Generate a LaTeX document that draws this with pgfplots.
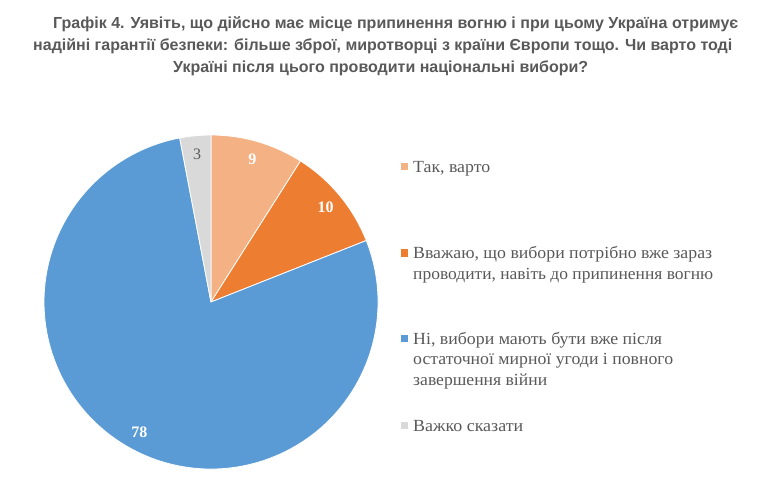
\documentclass[border=0pt]{standalone}
\usepackage{fontspec}
\setmainfont{Liberation Serif}
\newfontfamily\titlefont{Liberation Sans}
\usepackage{graphicx}
\usepackage{pgfplots}
\usepackage{pgfplotstable}
\pgfplotsset{compat=1.18}
\definecolor{cA}{HTML}{F4B183}
\definecolor{cB}{HTML}{ED7D31}
\definecolor{cC}{HTML}{5B9BD5}
\definecolor{cD}{HTML}{D9D9D9}
\definecolor{txt}{HTML}{595959}

\pgfplotstableread{
value
9
10
78
3
}\piedata

\newcommand\legline[3]{\node at (413bp,-#1bp) {\resizebox{#2bp}{\height}{#3}};}

\begin{document}
\begin{tikzpicture}
\useasboundingbox (0,0) rectangle (764bp,-494bp);
\pgfplotstablegetelem{0}{value}\of\piedata \pgfmathtruncatemacro\vA{\pgfplotsretval}
\pgfplotstablegetelem{1}{value}\of\piedata \pgfmathtruncatemacro\vB{\pgfplotsretval}
\pgfplotstablegetelem{2}{value}\of\piedata \pgfmathtruncatemacro\vC{\pgfplotsretval}
\pgfplotstablegetelem{3}{value}\of\piedata \pgfmathtruncatemacro\vD{\pgfplotsretval}
\pgfmathsetmacro\aA{90-3.6*\vA}
\pgfmathsetmacro\aB{\aA-3.6*\vB}
\pgfmathsetmacro\aC{\aB-3.6*\vC}
\pgfmathsetmacro\aD{\aC-3.6*\vD}
\pgfmathsetmacro\mA{(90+\aA)/2}
\pgfmathsetmacro\mB{(\aA+\aB)/2}
\pgfmathsetmacro\mC{(\aB+\aC)/2}
\pgfmathsetmacro\mD{(\aC+\aD)/2}
\begin{axis}[at={(211bp,-302bp)}, anchor=origin, scale only axis,
  width=334bp, height=334bp, xmin=-1, xmax=1, ymin=-1, ymax=1,
  hide axis, clip=false]
\fill[cA, draw=white, line width=0.8bp] (axis cs:0,0) -- (axis cs:0,1) arc[start angle=90, end angle=\aA, radius=167bp] -- cycle;
\fill[cB, draw=white, line width=0.8bp] (axis cs:0,0) -- (axis cs:{cos(\aA)},{sin(\aA)}) arc[start angle=\aA, end angle=\aB, radius=167bp] -- cycle;
\fill[cC, draw=white, line width=0.8bp] (axis cs:0,0) -- (axis cs:{cos(\aB)},{sin(\aB)}) arc[start angle=\aB, end angle=\aC, radius=167bp] -- cycle;
\fill[cD, draw=white, line width=0.8bp] (axis cs:0,0) -- (axis cs:{cos(\aC)},{sin(\aC)}) arc[start angle=\aC, end angle=\aD, radius=167bp] -- cycle;
\node[text=white, font=\fontsize{16bp}{18bp}\selectfont\bfseries] at (axis cs:{0.89*cos(\mA)},{0.89*sin(\mA)}) {\vA};
\node[text=white, font=\fontsize{16bp}{18bp}\selectfont\bfseries] at (axis cs:{0.89*cos(\mB)},{0.89*sin(\mB)}) {\vB};
\node[text=white, font=\fontsize{16bp}{18bp}\selectfont\bfseries] at (axis cs:{0.89*cos(\mC)},{0.89*sin(\mC)}) {\vC};
\node[text=txt, font=\fontsize{16bp}{18bp}\selectfont] at (axis cs:{0.89*cos(\mD)},{0.89*sin(\mD)}) {\vD};
\end{axis}
% title
\begin{scope}[every node/.style={inner sep=0pt, text=txt, font=\titlefont\bfseries\fontsize{16bp}{19bp}\selectfont}]
\node[anchor=base west] at (53bp,-28bp) {\resizebox{685bp}{\height}{Графік 4. Уявіть, що дійсно має місце припинення вогню і при цьому Україна отримує}};
\node[anchor=base west] at (33bp,-50bp) {\resizebox{699bp}{\height}{надійні гарантії безпеки: більше зброї, миротворці з країни Європи тощо. Чи варто тоді}};
\node[anchor=base west] at (173bp,-72bp) {\resizebox{415bp}{\height}{Україні після цього проводити національні вибори?}};
\end{scope}
% legend
\fill[cA] (401bp,-162.5bp) rectangle (408bp,-169.5bp);
\fill[cB] (401bp,-249.3bp) rectangle (408bp,-256.5bp);
\fill[cC] (401bp,-335bp) rectangle (408bp,-342bp);
\fill[cD] (401bp,-421.7bp) rectangle (408bp,-428.5bp);
\begin{scope}[every node/.style={inner sep=0pt, anchor=base west, text=txt, font=\fontsize{17bp}{20bp}\selectfont}]
\legline{172}{77}{Так, варто}
\legline{258.5}{299}{Вважаю, що вибори потрібно вже зараз}
\legline{279}{300}{проводити, навіть до припинення вогню}
\legline{344.3}{249}{Ні, вибори мають бути вже після}
\legline{364.5}{260}{остаточної мирної угоди і повного}
\legline{385}{134}{завершення війни}
\legline{431}{110}{Важко сказати}
\end{scope}
\end{tikzpicture}
\end{document}
